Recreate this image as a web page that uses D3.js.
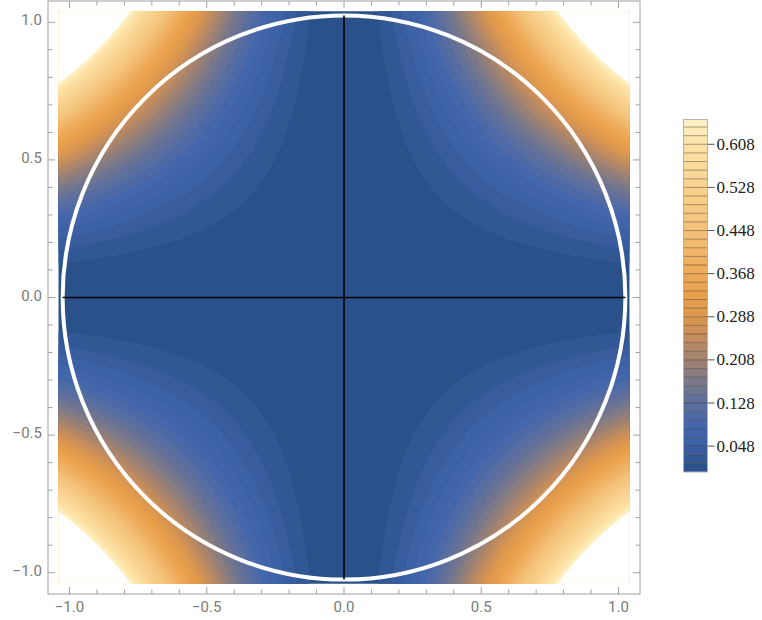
<!DOCTYPE html>
<html>
<head>
<meta charset="utf-8">
<script src="https://cdn.jsdelivr.net/npm/d3@7"></script>
<style>
  body { margin: 0; background: #fff; }
  svg { display: block; }
</style>
</head>
<body>
<div id="chart"></div>
<script>
// contour levels (step 0.016), legend top and clipping level
const LEVEL_STEP = 0.016;
const LEVELS = d3.range(0, 0.6541, LEVEL_STEP);
const LEGEND_MAX = 0.654;
const CLIP_LEVEL = 0.654;

// plotted domain and overlay circle
const DOMAIN = [-1.04, 1.04];
const CIRCLE_R = 1.025;

// axis ticks
const MAJOR_TICKS = [-1.0, -0.5, 0.0, 0.5, 1.0];
const MINOR_TICKS = d3.range(-10, 11).map(d => d / 10);
const LEGEND_TICKS = [0.048, 0.128, 0.208, 0.288, 0.368, 0.448, 0.528, 0.608];

// colour stops (fraction of legend range -> colour)
const STOP_T = [0.0, 0.012, 0.073, 0.14, 0.2, 0.26, 0.32, 0.38, 0.44,
                0.5, 0.563, 0.685, 0.807, 0.93, 1.0];
const STOP_C = ["#285087", "#2a5189", "#3b5fa3", "#4567ac", "#5f6f9c", "#7d7a88",
                "#a08270", "#c28c5e", "#dc974f", "#e89f4c", "#eda857", "#f4c27a",
                "#f8d28e", "#fde3a8", "#fff2c6"];

const WIDTH = 762, HEIGHT = 620;

window.onload = function() {

    var svg = d3.select("#chart").append("svg")
        .attr("width", WIDTH)
        .attr("height", HEIGHT);

    var x = d3.scaleLinear().domain([-1, 1]).range([69.5, 618.5]);
    var y = d3.scaleLinear().domain([-1, 1]).range([572.7, 22.3]);

    var color = d3.scaleLinear().domain(STOP_T).range(STOP_C)
        .interpolate(d3.interpolateRgb);
    var bandColor = function(k) {
        var lo = LEVELS[k];
        var hi = Math.min(LEVELS[k] + LEVEL_STEP, LEGEND_MAX);
        return color(((lo + hi) / 2) / LEGEND_MAX);
    };

    // sample x^2 y^2 on a grid
    var n = 420;
    var h = (DOMAIN[1] - DOMAIN[0]) / n;
    var values = new Array(n * n);
    for (var j = 0; j < n; j++) {
        var yy = DOMAIN[1] - (j + 0.5) * h;
        for (var i = 0; i < n; i++) {
            var xx = DOMAIN[0] + (i + 0.5) * h;
            values[j * n + i] = xx * xx * yy * yy;
        }
    }

    var proj = d3.geoTransform({
        point: function(gx, gy) {
            this.stream.point(x(DOMAIN[0] + gx * h), y(DOMAIN[1] - gy * h));
        }
    });
    var path = d3.geoPath(proj);

    var contours = d3.contours().size([n, n]).thresholds(LEVELS)(values);

    var plot = svg.append("g");
    plot.selectAll("path.band")
        .data(contours)
        .enter()
        .append("path")
        .attr("class", "band")
        .attr("d", path)
        .attr("fill", function(d, k) { return bandColor(k); });

    // values above the plot range are left blank
    var clipped = d3.contours().size([n, n]).thresholds([CLIP_LEVEL])(values);
    plot.append("path")
        .attr("d", path(clipped[0]))
        .attr("fill", "#fff");

    // overlay: circle and axes
    plot.append("ellipse")
        .attr("cx", x(0)).attr("cy", y(0))
        .attr("rx", x(CIRCLE_R) - x(0))
        .attr("ry", y(0) - y(CIRCLE_R))
        .attr("fill", "none")
        .attr("stroke", "#fff")
        .attr("stroke-width", 4);

    plot.append("line")
        .attr("x1", x(-CIRCLE_R)).attr("x2", x(CIRCLE_R))
        .attr("y1", y(0)).attr("y2", y(0))
        .attr("stroke", "#000").attr("stroke-width", 1.6);
    plot.append("line")
        .attr("x1", x(0)).attr("x2", x(0))
        .attr("y1", y(CIRCLE_R)).attr("y2", y(-CIRCLE_R))
        .attr("stroke", "#000").attr("stroke-width", 1.6);

    // frame
    var F = {left: 48, right: 640, top: 1, bottom: 594};
    var frame = svg.append("g").attr("stroke", "#a0a0a0").attr("fill", "none");
    frame.append("rect")
        .attr("x", F.left).attr("y", F.top)
        .attr("width", F.right - F.left).attr("height", F.bottom - F.top)
        .attr("stroke-width", 1);

    var isMajor = function(v) { return MAJOR_TICKS.some(m => Math.abs(m - v) < 1e-9); };
    var tlen = function(v) { return isMajor(v) ? 7 : 4.5; };

    MINOR_TICKS.forEach(function(v) {
        var px = x(v), py = y(v), L = tlen(v);
        frame.append("line").attr("x1", px).attr("x2", px)
            .attr("y1", F.bottom).attr("y2", F.bottom - L);
        frame.append("line").attr("x1", px).attr("x2", px)
            .attr("y1", F.top).attr("y2", F.top + L);
        frame.append("line").attr("y1", py).attr("y2", py)
            .attr("x1", F.left).attr("x2", F.left + L);
        frame.append("line").attr("y1", py).attr("y2", py)
            .attr("x1", F.right).attr("x2", F.right - L);
    });

    var fmt = function(v) { return d3.format(".1f")(v).replace("-", "\u2212"); };

    svg.append("g").selectAll("text")
        .data(MAJOR_TICKS).enter().append("text")
        .attr("x", d => x(d)).attr("y", 612)
        .attr("text-anchor", "middle")
        .attr("font-family", "Roboto, sans-serif").attr("font-size", 15)
        .attr("fill", "#7a7a7a")
        .text(fmt);

    svg.append("g").selectAll("text")
        .data(MAJOR_TICKS).enter().append("text")
        .attr("x", 42).attr("y", d => y(d) + 3)
        .attr("text-anchor", "end")
        .attr("font-family", "Roboto, sans-serif").attr("font-size", 15)
        .attr("fill", "#7a7a7a")
        .text(fmt);

    // legend
    var cb = {x: 683.5, w: 24};
    var ly = d3.scaleLinear().domain([0, LEGEND_MAX]).range([472, 119.5]);
    var legend = svg.append("g");
    legend.selectAll("rect")
        .data(LEVELS).enter().append("rect")
        .attr("x", cb.x).attr("width", cb.w)
        .attr("y", d => ly(Math.min(d + LEVEL_STEP, LEGEND_MAX)))
        .attr("height", d => ly(d) - ly(Math.min(d + LEVEL_STEP, LEGEND_MAX)))
        .attr("fill", (d, k) => bandColor(k));
    legend.selectAll("line.sep")
        .data(LEVELS.slice(1)).enter().append("line")
        .attr("class", "sep")
        .attr("x1", cb.x).attr("x2", cb.x + cb.w)
        .attr("y1", d => ly(d)).attr("y2", d => ly(d))
        .attr("stroke", "rgba(40,30,20,0.4)").attr("stroke-width", 1);
    legend.append("rect")
        .attr("x", cb.x).attr("y", ly(LEGEND_MAX))
        .attr("width", cb.w).attr("height", ly(0) - ly(LEGEND_MAX))
        .attr("fill", "none").attr("stroke", "#b4b4b4").attr("stroke-width", 1);
    legend.selectAll("line.tick")
        .data(LEGEND_TICKS).enter().append("line")
        .attr("class", "tick")
        .attr("x1", cb.x + cb.w).attr("x2", cb.x + cb.w + 7)
        .attr("y1", d => ly(d)).attr("y2", d => ly(d))
        .attr("stroke", "#555").attr("stroke-width", 1);
    legend.selectAll("text")
        .data(LEGEND_TICKS).enter().append("text")
        .attr("x", cb.x + cb.w + 9).attr("y", d => ly(d) + 5.5)
        .attr("font-family", "'Liberation Serif', serif").attr("font-size", 17)
        .attr("fill", "#222")
        .text(d => d3.format(".3f")(d));
};
</script>
</body>
</html>
